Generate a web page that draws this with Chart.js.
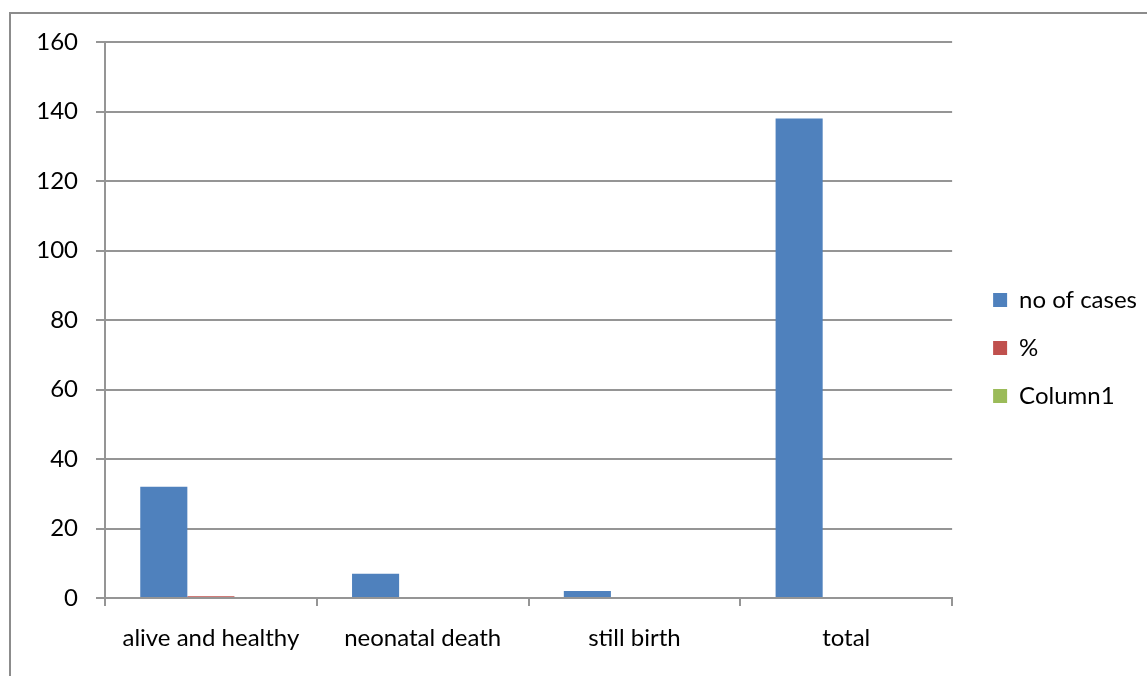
<!DOCTYPE html>
<html>
<head>
<meta charset="utf-8">
<script src="https://cdn.jsdelivr.net/npm/chart.js@4/dist/chart.umd.min.js"></script>
<style>
  html, body { margin: 0; padding: 0; background: #fff; }
  #wrap { width: 1147px; height: 676px; }
</style>
</head>
<body>
<div id="wrap"><canvas id="chart"></canvas></div>
<script>
// categorias y series
const categories = ['alive and healthy', 'neonatal death', 'still birth', 'total'];
const noOfCases = [32, 7, 2, 138];
const percent = [0.5, null, null, null];
const column1 = [null, null, null, null];
const yTicks = [0, 20, 40, 60, 80, 100, 120, 140, 160];

const gridColor = '#959595';
const font = { family: 'Lato', size: 24 };

// marco exterior del grafico
const frame = {
    id: 'frame',
    beforeDraw(chart) {
        const ctx = chart.ctx;
        ctx.save();
        ctx.strokeStyle = '#8c8c8c';
        ctx.lineWidth = 2;
        ctx.strokeRect(10, 13, 1300, 800);
        ctx.restore();
    }
};

const ctx = document.getElementById('chart').getContext('2d');
const chart = new Chart(ctx, {
    type: 'bar',
    data: {
        labels: categories,
        datasets: [
            { label: 'no of cases', data: noOfCases, backgroundColor: '#4f81bd' },
            { label: '%', data: percent, backgroundColor: '#c0504d' },
            { label: 'Column1', data: column1, backgroundColor: '#9bbb59' }
        ]
    },
    options: {
        responsive: true,
        maintainAspectRatio: false,
        animation: false,
        layout: { padding: { left: 0, top: 42, right: 0, bottom: 22 } },
        datasets: { bar: { categoryPercentage: 0.667, barPercentage: 1 } },
        plugins: {
            legend: {
                position: 'right',
                labels: {
                    font: font,
                    color: '#000',
                    boxWidth: 14,
                    boxHeight: 14,
                    padding: 24
                }
            },
            tooltip: { enabled: false }
        },
        scales: {
            x: {
                grid: {
                    offset: true,
                    drawOnChartArea: false,
                    color: gridColor,
                    lineWidth: 2,
                    tickLength: 8
                },
                border: { color: gridColor, width: 2 },
                ticks: { font: font, color: '#000', padding: 18 },
                afterFit(scale) { scale.height = 56; }
            },
            y: {
                min: 0,
                max: 160,
                afterBuildTicks(scale) { scale.ticks = yTicks.map(v => ({ value: v })); },
                grid: { color: gridColor, lineWidth: 2, tickLength: 9 },
                border: { color: gridColor, width: 2 },
                ticks: { font: font, color: '#000', padding: 18 },
                afterFit(scale) { scale.width = 105; }
            },
            // espacio vacio entre el area del grafico y la leyenda
            gap: {
                position: 'right',
                display: true,
                grid: { display: false },
                border: { display: false },
                ticks: { display: false },
                afterFit(scale) { scale.width = 17; }
            }
        }
    },
    plugins: [frame]
});
</script>
</body>
</html>
